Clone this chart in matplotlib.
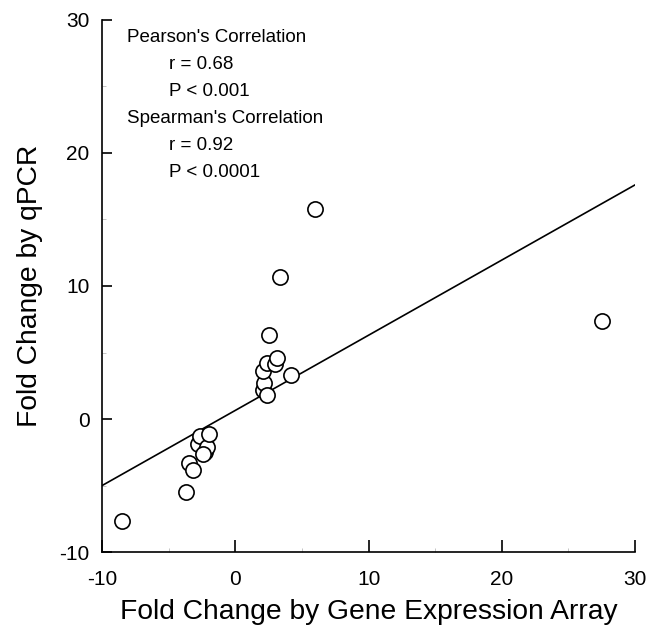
import matplotlib
matplotlib.use("Agg")
import matplotlib.pyplot as plt
from matplotlib.ticker import MultipleLocator

plt.rcParams["font.family"] = ["Liberation Sans", "DejaVu Sans"]
plt.rcParams["axes.unicode_minus"] = False

# datos
array_fc = [-8.5, -3.7, -3.5, -3.15, -2.8, -2.65, -2.3, -2.15, -2.0, -2.4,
            2.05, 2.15, 2.35, 2.1, 2.4, 3.0, 3.15, 2.55, 4.15, 3.35, 6.0, 27.5]
qpcr_fc = [-7.65, -5.45, -3.3, -3.8, -1.9, -1.3, -2.45, -2.1, -1.1, -2.6,
           2.2, 2.7, 1.8, 3.6, 4.2, 4.1, 4.55, 6.3, 3.3, 10.7, 15.8, 7.35]
# linea de regresion
fit_x = [-10, 30]
fit_y = [-5.0, 17.6]

stats_lines = ["Pearson's Correlation", "r = 0.68", "P < 0.001",
               "Spearman's Correlation", "r = 0.92", "P < 0.0001"]

fig = plt.figure(figsize=(6.59, 6.34), dpi=100)
ax = fig.add_axes([0.155, 0.1293, 0.8086, 0.8392])

ax.plot(fit_x, fit_y, color="black", lw=1.2, zorder=2)
ax.scatter(array_fc, qpcr_fc, s=120, facecolors="white", edgecolors="black",
           linewidths=1.2, zorder=3)

ax.set_xlim(-10, 30)
ax.set_ylim(-10, 30)
ax.xaxis.set_major_locator(MultipleLocator(10))
ax.yaxis.set_major_locator(MultipleLocator(10))
ax.xaxis.set_minor_locator(MultipleLocator(5))
ax.yaxis.set_minor_locator(MultipleLocator(5))
ax.tick_params(which="major", direction="in", width=1.2, labelsize=15)
ax.tick_params(axis="x", which="major", length=8.5, pad=13)
ax.tick_params(axis="y", which="major", length=7.5, pad=9)
ax.tick_params(which="minor", direction="in", length=3, width=0.4, color="#999999")
for s in ["top", "right"]:
    ax.spines[s].set_visible(False)
for s in ["left", "bottom"]:
    ax.spines[s].set_linewidth(1.2)

ax.set_xlabel("Fold Change by Gene Expression Array", fontsize=20.3, labelpad=7)
ax.set_ylabel("Fold Change by qPCR", fontsize=20.3, labelpad=12)

# texto de correlaciones
y0 = 28.37
for i, t in enumerate(stats_lines):
    xx = -8.1 if i in (0, 3) else -5.0
    ax.text(xx, y0 - i * 2.03, t, fontsize=13.5, va="baseline", ha="left")

fig.savefig("out.png", dpi=100)
